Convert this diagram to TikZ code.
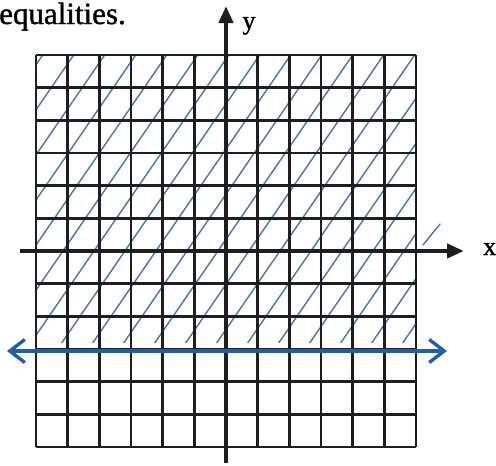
\documentclass[tikz,border=0pt]{standalone}
\usepackage{fontspec}
\setmainfont{Liberation Serif}
\newfontfamily\scanfont[FakeBold=1.2]{Liberation Serif}
\usetikzlibrary{arrows.meta}
\definecolor{ink}{RGB}{30,30,30}
\definecolor{pen}{RGB}{30,95,170}
\begin{document}
\begin{tikzpicture}[x=1pt,y=-1pt,
  gridline/.style={ink, line width=2.7pt},
  axisline/.style={ink, line width=4.2pt, -{Triangle[length=17pt,width=14pt]}},
  hatch/.style={pen, line width=1.4pt, opacity=0.85, line cap=round},
  boundary/.style={pen, line width=3.5pt,
    {Straight Barb[length=15pt,width=23pt,line width=3.4pt]}-{Straight Barb[length=15pt,width=23pt,line width=3.4pt]}},
  lbl/.style={inner sep=0pt, font=\scanfont\fontsize{26}{26}\selectfont}]
\useasboundingbox (0,0) rectangle (496,466);
% shading of the solution region
\begin{scope}
  \clip (36,55) rectangle (416,342);
  \foreach \b in {-260,-229,...,430} \draw[hatch] (\b,360) -- ({\b+220},40);
\end{scope}
\coordinate (h1) at (423,245);
\coordinate (h2) at (440,224);
\draw[hatch] (h1) -- (h2);
% grid
\foreach \i in {0,...,12} \draw[gridline] ({36+31.67*\i},55) -- ({36+31.67*\i},447);
\foreach \j in {0,...,12} \draw[gridline] (36,{55+32.67*\j}) -- (416,{55+32.67*\j});
% axes
\coordinate (xs) at (20,251);
\coordinate (xe) at (464,251);
\draw[axisline] (xs) -- (xe);
\coordinate (ys) at (226,463);
\coordinate (ye) at (226,6);
\draw[axisline] (ys) -- (ye);
% boundary line y = -3
\coordinate (bl) at (7,351);
\coordinate (br) at (447,351);
\draw[boundary] (bl) -- (br);
% labels
\node[lbl, anchor=base] (ylab) at (249,29) {y};
\node[lbl, anchor=base west] (xlab) at (483,255) {x};
\node[inner sep=0pt, anchor=base west, font=\scanfont\fontsize{31}{31}\selectfont] (title) at (-1,24) {equalities.};
\end{tikzpicture}
\end{document}
